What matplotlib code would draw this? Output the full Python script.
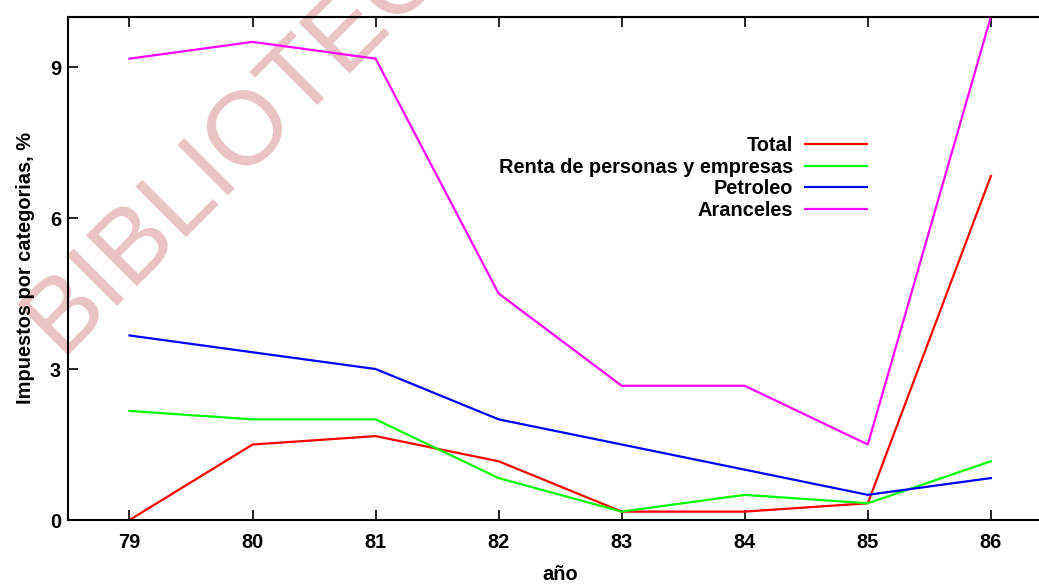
import matplotlib
matplotlib.use("Agg")
import matplotlib.pyplot as plt

# Tax shares by category, yearly
years = [79, 80, 81, 82, 83, 84, 85, 86]
total = [0.0, 1.5, 1.667, 1.167, 0.167, 0.167, 0.333, 6.833]
renta = [2.167, 2.0, 2.0, 0.833, 0.167, 0.5, 0.333, 1.167]
petroleo = [3.667, 3.333, 3.0, 2.0, 1.5, 1.0, 0.5, 0.833]
aranceles = [9.167, 9.5, 9.167, 4.5, 2.667, 2.667, 1.5, 10.0]

series_labels = ['Total', 'Renta de personas y empresas', 'Petroleo', 'Aranceles']
series_colors = ['#ff0000', '#00ff00', '#0000ff', '#ff00ff']
y_ticks = [0, 3, 6, 9]

plt.rcParams['font.family'] = ['Liberation Sans', 'DejaVu Sans']
plt.rcParams['font.weight'] = 'bold'


def make_plot():
    fig = plt.figure(figsize=(10.39, 5.85), dpi=100)
    ax = fig.add_axes([0.0654, 0.1111, 0.9475, 0.8603])
    ax.patch.set_visible(False)

    # faint stamp behind the plot
    fig.text(0.2485, 0.795, 'BIBLIOTECA', rotation=45, rotation_mode='anchor',
             ha='center', va='center', fontsize=75, fontweight='normal',
             color='#e8c4c4', zorder=-1)

    for vals, lab, col in zip([total, renta, petroleo, aranceles],
                              series_labels, series_colors):
        ax.plot(years, vals, color=col, lw=1.6, label=lab)

    ax.set_xlim(78.5, 86.5)
    ax.set_ylim(0, 10)
    ax.set_xticks(years)
    ax.set_yticks(y_ticks)
    ax.tick_params(axis='x', direction='in', length=7.2, width=1.2,
                   top=True, labelsize=14.4, pad=9)
    ax.tick_params(axis='y', direction='in', length=7.2, width=1.2,
                   right=True, labelsize=14.4, pad=5)
    for sp in ax.spines.values():
        sp.set_linewidth(1.5)

    ax.set_xlabel('año', fontsize=14.4, fontweight='bold', labelpad=10)
    ax.set_ylabel('Impuestos por categorias, %', fontsize=14.4,
                  fontweight='bold', labelpad=11)

    ax.legend(loc='upper right', bbox_to_anchor=(0.8345, 0.768),
              bbox_transform=fig.transFigure, frameon=False, markerfirst=False,
              fontsize=14.4, handlelength=3.1, handletextpad=0.6,
              labelspacing=0.14, borderpad=0, borderaxespad=0)
    return fig


if __name__ == "__main__":
    fig = make_plot()
    fig.savefig('out.png', dpi=100)
